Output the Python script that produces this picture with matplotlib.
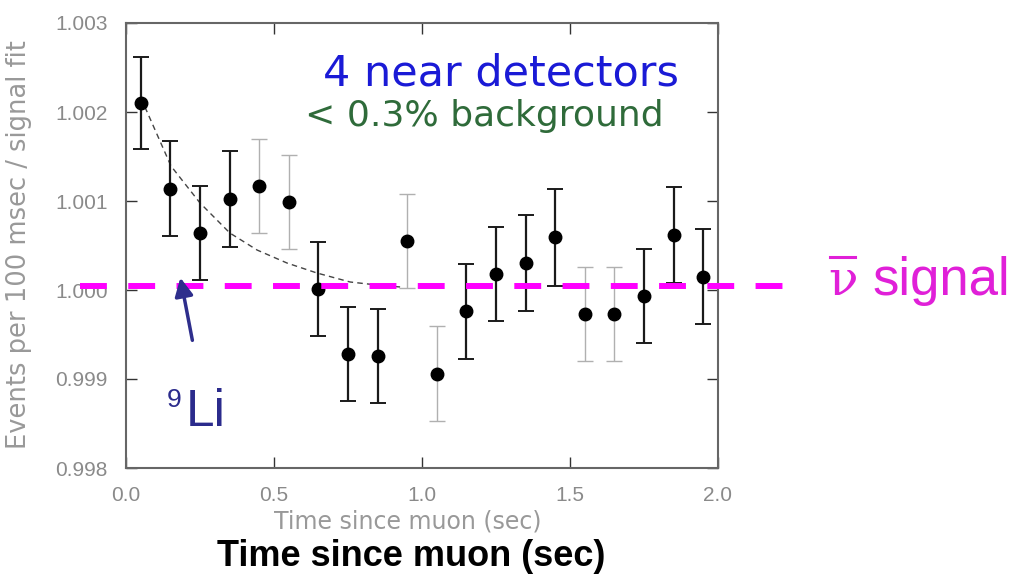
import numpy as np
import matplotlib
matplotlib.use("Agg")
import matplotlib.pyplot as plt
from matplotlib.lines import Line2D

# time bins (sec) and ratio data
t = [0.05, 0.15, 0.25, 0.35, 0.45, 0.55, 0.65, 0.75, 0.85, 0.95,
     1.05, 1.15, 1.25, 1.35, 1.45, 1.55, 1.65, 1.75, 1.85, 1.95]
ratio = [1.00210, 1.00114, 1.00064, 1.00102, 1.00117, 1.00099, 1.00001, 0.99928, 0.99926, 1.00055,
         0.99906, 0.99976, 1.00018, 1.00030, 1.00059, 0.99973, 0.99973, 0.99993, 1.00062, 1.00015]
err = [0.00052, 0.00053, 0.00053, 0.00054, 0.00053, 0.00053, 0.00053, 0.00053, 0.00053, 0.00053,
       0.00053, 0.00053, 0.00053, 0.00054, 0.00055, 0.00053, 0.00053, 0.00053, 0.00054, 0.00053]
# darker or lighter error bars as printed
bar_dark = [1, 1, 1, 1, 0, 0, 1, 1, 1, 0,
            0, 1, 1, 1, 1, 0, 0, 1, 1, 1]

# dashed 9Li fit curve
fit_t = [0.064, 0.152, 0.250, 0.351, 0.443, 0.544, 0.645, 0.757, 0.848, 0.926]
fit_v = [1.002056, 1.001393, 1.000978, 1.000640, 1.000449, 1.000303, 1.000191, 1.000090, 1.000056, 1.000034]

signal_level = 1.00004
xticks = [0.0, 0.5, 1.0, 1.5, 2.0]
yticks = [0.998, 0.999, 1.000, 1.001, 1.002, 1.003]

fig = plt.figure(figsize=(10.18, 5.76), dpi=100)
ax = fig.add_axes([126 / 1018, 1 - 468 / 576, 592 / 1018, 445 / 576])

gray = "#8a8a8a"
for xi, yi, ei, dk in zip(t, ratio, err, bar_dark):
    c = "#1a1a1a" if dk else "#b0b0b0"
    ax.errorbar(xi, yi, yerr=ei, fmt="none", ecolor=c, elinewidth=1.6 if dk else 1.0,
                capsize=6, capthick=1.4 if dk else 1.0, zorder=3)
ax.plot(t, ratio, "o", color="black", markersize=9, zorder=4)

ax.plot(fit_t, fit_v, linestyle=(0, (4, 3)), color="#444444", lw=1.0, zorder=2)

# magenta signal line sticking out of the frame
ax.plot([-0.154, 2.226], [signal_level, signal_level], color="#ff00ff", lw=4.3,
        dashes=(4.5, 3.58), clip_on=False, zorder=5)

ax.set_xlim(0, 2.0)
ax.set_ylim(0.998, 1.003)
ax.set_xticks(xticks)
ax.set_yticks(yticks)
ax.set_xticklabels(["%.1f" % v for v in xticks])
ax.set_yticklabels(["%.3f" % v for v in yticks])
ax.tick_params(direction="in", length=8, width=1.0, color="#333333", labelcolor=gray,
               labelsize=15, top=True, right=True, pad=13)
for lab in ax.get_xticklabels() + ax.get_yticklabels():
    lab.set_family("Liberation Sans")
for s in ax.spines.values():
    s.set_color("#666666")
    s.set_linewidth(1.5)

fig.text(19 / 1018, 1 - 245 / 576, "Events per 100 msec / signal fit", rotation=90,
         ha="center", va="center", color="#999999", fontsize=18.5, family="DejaVu Sans")
fig.text(408 / 1018, 1 - 521 / 576, "Time since muon (sec)", ha="center", va="center",
         color="#999999", fontsize=17, family="DejaVu Sans")
fig.text(411 / 1018, 1 - 556 / 576, "Time since muon (sec)", ha="center", va="center",
         color="black", fontsize=26, fontweight="bold", family="Liberation Sans")

fig.text(501 / 1018, 1 - 85 / 576, "4 near detectors", ha="center", va="baseline",
         color="#1a1ad6", fontsize=31, family="DejaVu Sans")
fig.text(305 / 1018, 1 - 126 / 576, "< 0.3% background", ha="left", va="baseline",
         color="#2f6b3a", fontsize=26, family="DejaVu Sans")

# upright serif nu with an overbar
fig.text(828 / 1018, 1 - 295 / 576, "ν", ha="left", va="baseline",
         color="#e020d8", fontsize=35, family="DejaVu Serif")
fig.add_artist(Line2D([830 / 1018, 855 / 1018], [1 - 257 / 576, 1 - 257 / 576],
                      color="#e020d8", lw=2.2))
fig.text(872 / 1018, 1 - 295 / 576, "signal", ha="left", va="baseline",
         color="#e020d8", fontsize=38, family="Liberation Sans")

fig.text(167 / 1018, 1 - 407 / 576, "9", ha="left", va="baseline",
         color="#2b2b8c", fontsize=19, family="Liberation Sans")
fig.text(186 / 1018, 1 - 426 / 576, "Li", ha="left", va="baseline",
         color="#2b2b8c", fontsize=37, family="Liberation Sans")
ax.annotate("", xy=(0.182, 1.000169), xytext=(0.226, 0.999404),
            arrowprops=dict(arrowstyle="-|>,head_length=1.1,head_width=0.55",
                            lw=2.5, color="#2e2e8c"), annotation_clip=False, zorder=6)

fig.savefig("out.png", dpi=100)
